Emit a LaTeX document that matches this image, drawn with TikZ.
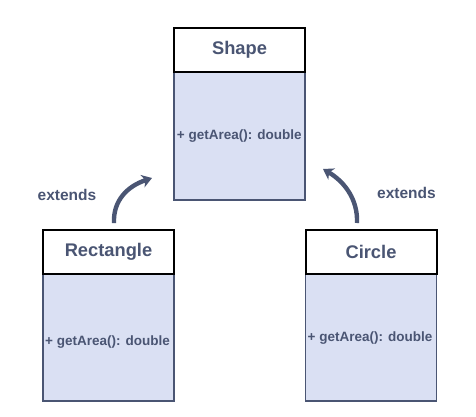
\documentclass[tikz,border=0pt]{standalone}
\usepackage{fontspec}
\setmainfont{Liberation Sans}
\usetikzlibrary{arrows.meta,positioning}
\definecolor{slate}{HTML}{4A5573}
\definecolor{bodyfill}{HTML}{DAE0F3}
\tikzset{
  hdr/.style={draw=black, line width=2pt, fill=white, minimum width=131pt, minimum height=44pt, inner sep=0pt, anchor=north west, font=\bfseries\fontsize{18.3}{20}\selectfont, text=slate},
  bdy/.style={draw=slate, line width=1.6pt, fill=bodyfill, minimum width=131pt, minimum height=128pt, inner sep=0pt, anchor=north west, font=\bfseries\fontsize{13.5}{15}\selectfont, text=slate},
  lbl/.style={font=\bfseries\fontsize{15.5}{17}\selectfont, text=slate},
  ext/.style={draw=slate, line width=4.4pt, -{Stealth[length=10pt,width=13pt,inset=3pt]}}
}
\begin{document}
\begin{tikzpicture}[x=1pt,y=-1pt]
\useasboundingbox (0,0) rectangle (476,417);
% Shape
\node[bdy] (shapeb) at (173,71) {+ getArea(): double};
\node[hdr] (shapeh) at (173,27) {Shape};
% Rectangle
\node[bdy] (rectb) at (42,272) {};
\node[bdy, draw=none, fill=none, anchor=center] (recttxt) at (107.5,342) {+ getArea(): double};
\node[hdr] (recth) at (42,229) {Rectangle};
% Circle
\node[bdy] (circb) at (304.5,272) {};
\node[bdy, draw=none, fill=none, anchor=center] (circtxt) at (370,338) {+ getArea(): double};
\node[hdr] (circh) at (304.5,229) {Circle};
% arrows
\coordinate (ls) at (114,223);
\coordinate (le) at (152,178);
\coordinate (rs) at (357,223);
\coordinate (re) at (323,169);
\draw[ext] (ls) .. controls (113,200) and (128,186) .. (le);
\draw[ext] (rs) .. controls (358,200) and (345,182) .. (re);
\node[lbl] (lext) at (67,195) {extends};
\node[lbl] (rext) at (406.5,193) {extends};
\end{tikzpicture}
\end{document}
